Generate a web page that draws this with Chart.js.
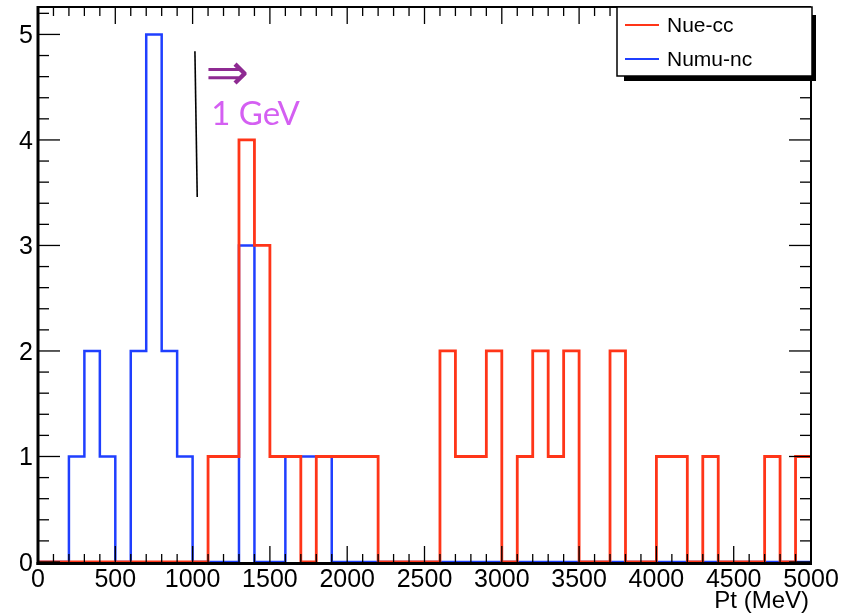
<!DOCTYPE html>
<html>
<head>
<meta charset="utf-8">
<script src="https://cdn.jsdelivr.net/npm/chart.js@4.4.0/dist/chart.umd.min.js"></script>
<style>
  html, body { margin: 0; padding: 0; background: #fff; }
  #wrap { width: 859px; height: 616px; }
</style>
</head>
<body>
<div id="wrap"><canvas id="chart" width="859" height="616"></canvas></div>
<script>
// === DATA ===
const binWidth = 100; // MeV
const binStarts = [
    0, 100, 200, 300, 400, 500, 600, 700, 800, 900,
    1000, 1100, 1200, 1300, 1400, 1500, 1600, 1700, 1800, 1900,
    2000, 2100, 2200, 2300, 2400, 2500, 2600, 2700, 2800, 2900,
    3000, 3100, 3200, 3300, 3400, 3500, 3600, 3700, 3800, 3900,
    4000, 4100, 4200, 4300, 4400, 4500, 4600, 4700, 4800, 4900
];
const nueCC = [
    0, 0, 0, 0, 0, 0, 0, 0, 0, 0,
    0, 1, 1, 4, 3, 1, 1, 0, 1, 1,
    1, 1, 0, 0, 0, 0, 2, 1, 1, 2,
    0, 1, 2, 1, 2, 0, 0, 2, 0, 0,
    1, 1, 0, 1, 0, 0, 0, 1, 0, 1
];
const numuNC = [
    0, 0, 1, 2, 1, 0, 2, 5, 2, 1,
    0, 0, 0, 3, 0, 0, 1, 1, 1, 0,
    0, 0, 0, 0, 0, 0, 0, 0, 0, 0,
    0, 0, 0, 0, 0, 0, 0, 0, 0, 0,
    0, 0, 0, 0, 0, 0, 0, 0, 0, 0
];
const seriesNames = ["Nue-cc", "Numu-nc"];
const xTickLabels = ["0", "500", "1000", "1500", "2000", "2500", "3000", "3500", "4000", "4500", "5000"];
const yTickLabels = ["0", "1", "2", "3", "4", "5"];
const xTitle = "Pt (MeV)";

const RED = "#ff3518";
const BLUE = "#1f3fff";

// histogram outline: one point per bin edge, drawn as steps
function stepPoints(counts) {
    const pts = binStarts.map((x, i) => ({ x: x, y: counts[i] }));
    pts.push({ x: binStarts[binStarts.length - 1] + binWidth, y: counts[counts.length - 1] });
    return pts;
}

// hand-drawn marks on the plot (in data units)
const cutMark = { x1: 1015, y1: 4.84, x2: 1030, y2: 3.46 };
const arrowMark = { x: 1225, y: 4.6, text: "\u21D2" };
const gevMark = { x: 1120, y: 4.24, text: "1 GeV" };

function seg(ctx, x1, y1, x2, y2) {
    ctx.beginPath();
    ctx.moveTo(x1, y1);
    ctx.lineTo(x2, y2);
    ctx.stroke();
}

// ROOT style frame: ticks on all four sides, labels, legend with shadow
const rootFrame = {
    id: "rootFrame",
    afterDraw(chart) {
        const { ctx, chartArea: a, scales: { x, y } } = chart;
        ctx.save();
        ctx.strokeStyle = "#000";
        ctx.lineWidth = 1.3;

        // x ticks, every 100, big every 500
        for (let k = 0; k <= 50; k++) {
            const px = x.getPixelForValue(k * 100);
            const major = k % 5 === 0;
            seg(ctx, px, a.bottom, px, a.bottom - (major ? 16 : 8));
            seg(ctx, px, a.top, px, a.top + (major ? 17 : 9));
        }
        // y ticks, every 0.2, big every 1
        for (let k = 0; k * 0.2 <= y.max; k++) {
            const py = y.getPixelForValue(k * 0.2);
            const major = k % 5 === 0;
            seg(ctx, a.left, py, a.left + (major ? 22 : 11), py);
            seg(ctx, a.right, py, a.right - (major ? 22 : 11), py);
        }

        // frame
        ctx.lineWidth = 2;
        seg(ctx, a.left, a.top, a.right, a.top);
        seg(ctx, a.right, a.top, a.right, a.bottom + 1.5);
        ctx.lineWidth = 3;
        seg(ctx, a.left, a.top - 1, a.left, a.bottom + 3);
        seg(ctx, a.left - 1.5, a.bottom + 1.5, a.right + 1, a.bottom + 1.5);

        // tick labels
        ctx.fillStyle = "#000";
        ctx.font = "25px 'Liberation Sans', Arial, sans-serif";
        ctx.textAlign = "center";
        ctx.textBaseline = "middle";
        xTickLabels.forEach(t => {
            ctx.fillText(t, x.getPixelForValue(Number(t)), 580);
        });
        ctx.textAlign = "right";
        yTickLabels.forEach(t => {
            ctx.fillText(t, 33, y.getPixelForValue(Number(t)) + 2);
        });
        ctx.font = "24px 'Liberation Sans', Arial, sans-serif";
        ctx.fillText(xTitle, a.right - 2, 601);

        // the 1 GeV cut marks
        ctx.strokeStyle = "#000";
        ctx.lineWidth = 1.6;
        seg(ctx, x.getPixelForValue(cutMark.x1), y.getPixelForValue(cutMark.y1),
            x.getPixelForValue(cutMark.x2), y.getPixelForValue(cutMark.y2));
        ctx.fillStyle = "#8e2a92";
        ctx.textAlign = "center";
        ctx.font = "52px 'DejaVu Sans', sans-serif";
        ctx.fillText(arrowMark.text, x.getPixelForValue(arrowMark.x), y.getPixelForValue(arrowMark.y));
        ctx.fillStyle = "#d45ff2";
        ctx.textAlign = "left";
        ctx.font = "33px Lato, 'Open Sans', sans-serif";
        ctx.fillText(gevMark.text, x.getPixelForValue(gevMark.x), y.getPixelForValue(gevMark.y));

        // legend box with drop shadow
        const L = 617, T = 7, R = 812, B = 76;
        ctx.fillStyle = "#000";
        ctx.fillRect(R, T + 8, 4, B - T - 3);
        ctx.fillRect(L + 7, B, R - L - 3, 5);
        ctx.fillStyle = "#fff";
        ctx.fillRect(L, T, R - L, B - T);
        ctx.strokeStyle = "#000";
        ctx.lineWidth = 1.5;
        ctx.strokeRect(L, T, R - L, B - T);
        ctx.font = "21px 'Liberation Sans', Arial, sans-serif";
        ctx.textBaseline = "middle";
        chart.data.datasets.forEach((ds, i) => {
            const ly = i === 0 ? 26 : 60;
            ctx.strokeStyle = ds.borderColor;
            ctx.lineWidth = 2;
            seg(ctx, 625, ly - 1, 659, ly - 1);
            ctx.fillStyle = "#000";
            ctx.fillText(ds.label, 667, ly);
        });
        ctx.restore();
    }
};

// === CHART ===
const ctx = document.getElementById("chart").getContext("2d");
const chart = new Chart(ctx,
{
    type: "line",
    data: {
        datasets: [
            {
                label: seriesNames[0],
                data: stepPoints(nueCC),
                borderColor: RED,
                borderWidth: 2.8,
                stepped: "before",
                fill: false,
                pointRadius: 0,
            },
            {
                label: seriesNames[1],
                data: stepPoints(numuNC),
                borderColor: BLUE,
                borderWidth: 2.5,
                stepped: "before",
                fill: false,
                pointRadius: 0,
            },
        ],
    },
    options: {
        responsive: false,
        animation: false,
        layout: { padding: { left: 38, right: 48, top: 7, bottom: 54 } },
        plugins: {
            legend: { display: false },
            tooltip: { enabled: false },
        },
        scales: {
            x: { type: "linear", min: 0, max: 5000, display: false },
            y: { type: "linear", min: 0, max: 5.26, display: false },
        },
    },
    plugins: [rootFrame],
});
</script>
</body>
</html>
